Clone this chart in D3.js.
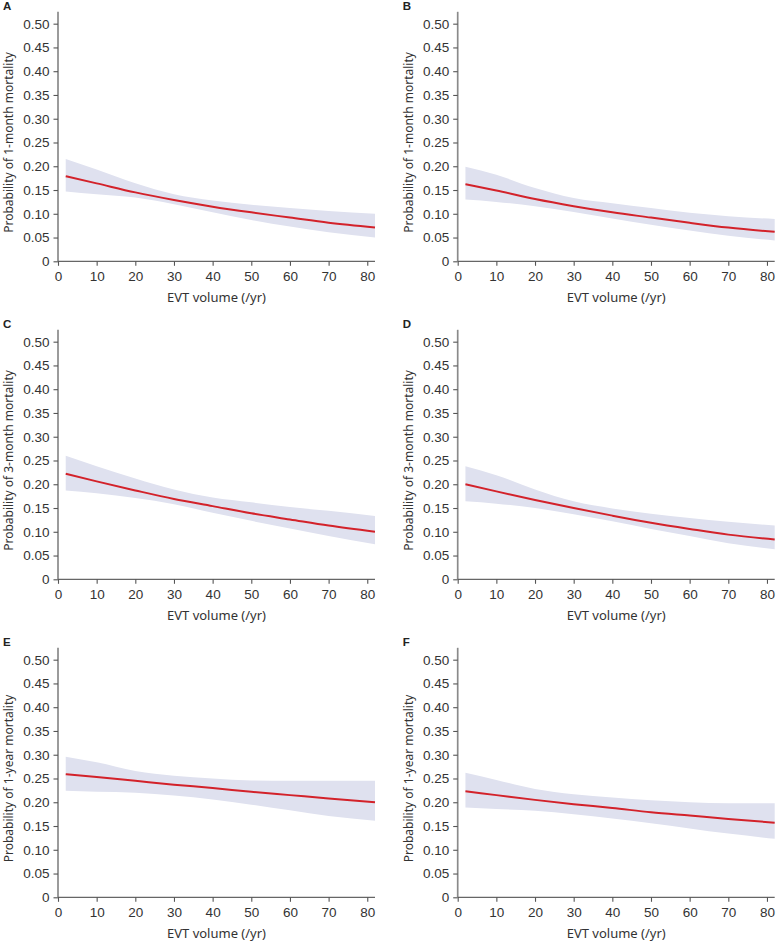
<!DOCTYPE html>
<html>
<head>
<meta charset="utf-8">
<script src="https://cdn.jsdelivr.net/npm/d3@7"></script>
<style>
  body { margin: 0; background: #fff; }
</style>
</head>
<body>
<div id="chart"></div>
<script>
// x positions the curves were read at (EVT volume per year)
const EVT_VOLUME = [2, 10, 20, 30, 40, 50, 60, 70, 82];

// A: 1-month mortality
const FIT_A   = [0.179, 0.164, 0.145, 0.129, 0.115, 0.103, 0.092, 0.081, 0.071];
const LOWER_A = [0.147, 0.141, 0.134, 0.120, 0.103, 0.087, 0.073, 0.061, 0.050];
const UPPER_A = [0.215, 0.193, 0.164, 0.141, 0.128, 0.119, 0.112, 0.106, 0.100];
// B: 1-month mortality
const FIT_B   = [0.162, 0.149, 0.131, 0.116, 0.103, 0.092, 0.081, 0.071, 0.062];
const LOWER_B = [0.130, 0.125, 0.116, 0.104, 0.090, 0.077, 0.065, 0.054, 0.044];
const UPPER_B = [0.199, 0.182, 0.154, 0.133, 0.122, 0.112, 0.102, 0.095, 0.089];
// C: 3-month mortality
const FIT_C   = [0.222, 0.206, 0.187, 0.169, 0.154, 0.139, 0.126, 0.113, 0.100];
const LOWER_C = [0.187, 0.181, 0.171, 0.158, 0.140, 0.123, 0.107, 0.091, 0.074];
const UPPER_C = [0.260, 0.238, 0.212, 0.189, 0.172, 0.162, 0.152, 0.144, 0.133];
// D: 3-month mortality
const FIT_D   = [0.200, 0.185, 0.167, 0.150, 0.134, 0.119, 0.106, 0.094, 0.084];
const LOWER_D = [0.164, 0.159, 0.150, 0.137, 0.122, 0.106, 0.091, 0.076, 0.063];
const UPPER_D = [0.238, 0.219, 0.189, 0.164, 0.149, 0.138, 0.129, 0.121, 0.113];
// E: 1-year mortality
const FIT_E   = [0.259, 0.253, 0.245, 0.237, 0.230, 0.222, 0.215, 0.208, 0.200];
const LOWER_E = [0.224, 0.222, 0.220, 0.214, 0.206, 0.195, 0.183, 0.171, 0.161];
const UPPER_E = [0.296, 0.284, 0.266, 0.256, 0.250, 0.246, 0.245, 0.245, 0.245];
// F: 1-year mortality
const FIT_F   = [0.223, 0.215, 0.205, 0.196, 0.188, 0.179, 0.172, 0.165, 0.157];
const LOWER_F = [0.189, 0.186, 0.182, 0.175, 0.166, 0.156, 0.145, 0.134, 0.123];
const UPPER_F = [0.262, 0.247, 0.228, 0.217, 0.210, 0.204, 0.200, 0.198, 0.198];

const PANEL_LABELS = ["A", "B", "C", "D", "E", "F"];
const Y_TITLES = [
  "Probability of 1-month mortality", "Probability of 1-month mortality",
  "Probability of 3-month mortality", "Probability of 3-month mortality",
  "Probability of 1-year mortality", "Probability of 1-year mortality"
];
const Y_TICKS = [0, 0.05, 0.10, 0.15, 0.20, 0.25, 0.30, 0.35, 0.40, 0.45, 0.50];
const X_TICKS = [0, 10, 20, 30, 40, 50, 60, 70, 80];
const X_TITLE = "EVT volume (/yr)";

const FITS = [FIT_A, FIT_B, FIT_C, FIT_D, FIT_E, FIT_F];
const LOWERS = [LOWER_A, LOWER_B, LOWER_C, LOWER_D, LOWER_E, LOWER_F];
const UPPERS = [UPPER_A, UPPER_B, UPPER_C, UPPER_D, UPPER_E, UPPER_F];

const SVG_W = 777, SVG_H = 943;
const AXIS_X0 = 58, COL_STEP = 399.7;   // y-axis position of left column, column offset
const ZERO_Y0 = 261.3, ROW_STEP = 318;  // zero line of first row, row offset
const PLOT_W = 317, PLOT_H = 249.5;
const TICK_FONT = "Arial, 'Liberation Sans', sans-serif";
const TITLE_FONT = "'Noto Sans', 'Open Sans', sans-serif";

const svg = d3.select("#chart")
  .append("svg")
  .attr("width", SVG_W)
  .attr("height", SVG_H)
  .style("font-family", TICK_FONT);

const x = d3.scaleLinear().domain([0, 82]).range([0, PLOT_W]);
const y = d3.scaleLinear().domain([0, 0.525]).range([PLOT_H, 0]);

const band = d3.area()
  .x(d => x(d.x))
  .y0(d => y(d.lo))
  .y1(d => y(d.hi))
  .curve(d3.curveMonotoneX);

const line = d3.line()
  .x(d => x(d.x))
  .y(d => y(d.fit))
  .curve(d3.curveMonotoneX);

PANEL_LABELS.forEach((label, i) => {
  const col = i % 2, row = Math.floor(i / 2);
  const left = AXIS_X0 + col * COL_STEP;
  const top = ZERO_Y0 + row * ROW_STEP - PLOT_H;

  const g = svg.append("g")
    .attr("transform", `translate(${left},${top})`);

  const rows = EVT_VOLUME.map((v, j) => ({
    x: v, fit: FITS[i][j], lo: LOWERS[i][j], hi: UPPERS[i][j]
  }));

  // confidence band + fitted curve
  g.append("path")
    .datum(rows)
    .attr("d", band)
    .attr("fill", "#dfe1ef");

  g.append("path")
    .datum(rows)
    .attr("d", line)
    .attr("fill", "none")
    .attr("stroke", "#d3222a")
    .attr("stroke-width", 2);

  // axes
  const yAxis = g.append("g")
    .call(d3.axisLeft(y)
      .tickValues(Y_TICKS)
      .tickSize(4.5)
      .tickPadding(4)
      .tickFormat(d => d === 0 ? "0" : d3.format(".2f")(d)));
  yAxis.select(".domain")
    .attr("d", `M0,${y(0.525)}V${PLOT_H}`)
    .attr("stroke", "#8a8a8a")
    .attr("stroke-width", 1.7);
  yAxis.selectAll(".tick line").attr("stroke", "#555").attr("stroke-width", 1.1);
  yAxis.selectAll(".tick text")
    .attr("fill", "#333")
    .style("font-size", "13.5px")
    .style("font-family", TICK_FONT);

  const xAxis = g.append("g")
    .attr("transform", `translate(0,${PLOT_H})`)
    .call(d3.axisBottom(x)
      .tickValues(X_TICKS)
      .tickSize(4.5)
      .tickPadding(6)
      .tickFormat(d3.format("d")));
  xAxis.select(".domain")
    .attr("d", `M0,0H${PLOT_W}`)
    .attr("stroke", "#666")
    .attr("stroke-width", 1.2);
  xAxis.selectAll(".tick line").attr("stroke", "#555").attr("stroke-width", 1.1);
  xAxis.selectAll(".tick text")
    .attr("fill", "#333")
    .style("font-size", "13.5px")
    .style("font-family", TICK_FONT);

  // titles
  g.append("text")
    .attr("x", PLOT_W / 2)
    .attr("y", PLOT_H + 40.5)
    .attr("text-anchor", "middle")
    .attr("fill", "#333")
    .style("font-family", TITLE_FONT)
    .style("font-size", "13px")
    .text(X_TITLE);

  g.append("text")
    .attr("transform", `translate(-45,${y(0.25)}) rotate(-90)`)
    .attr("text-anchor", "middle")
    .attr("fill", "#333")
    .style("font-family", TITLE_FONT)
    .style("font-size", "12px")
    .text(Y_TITLES[i]);

  g.append("text")
    .attr("x", -55)
    .attr("y", y(0.525) - 2)
    .attr("fill", "#222")
    .style("font-weight", "bold")
    .style("font-size", "11.5px")
    .text(label);
});
</script>
</body>
</html>
